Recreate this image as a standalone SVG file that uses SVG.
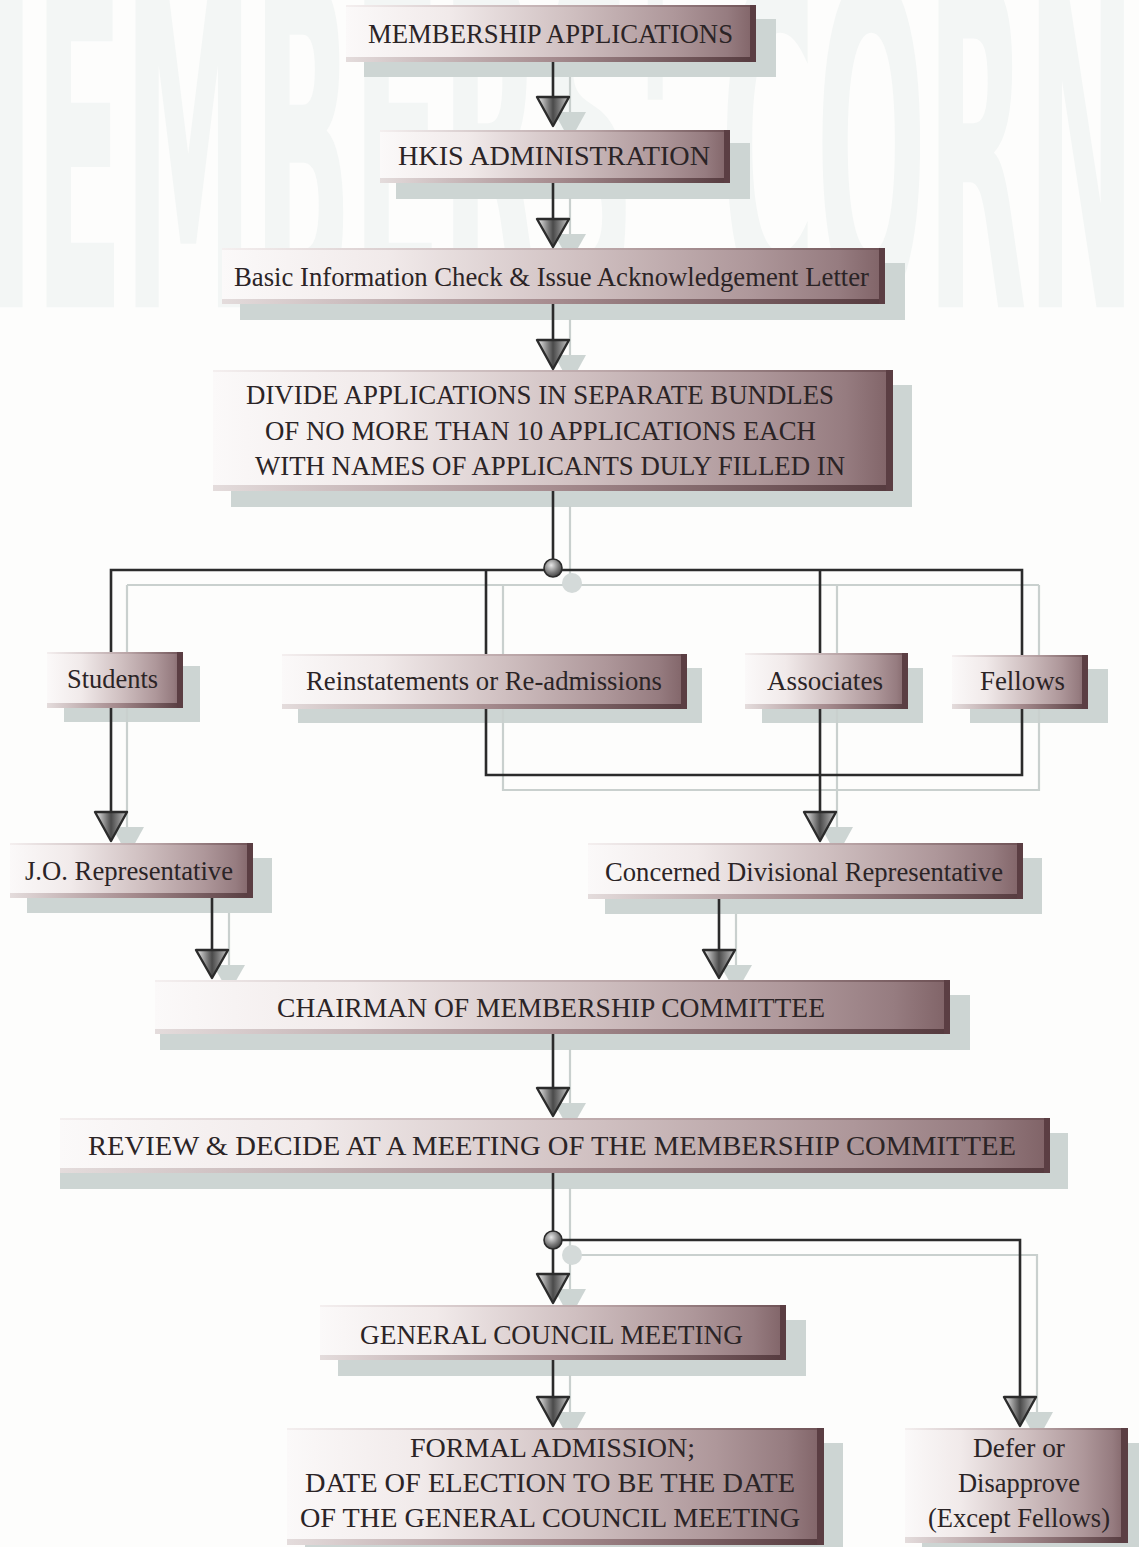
<svg xmlns="http://www.w3.org/2000/svg" width="1139" height="1547" viewBox="0 0 1139 1547">
<defs>
<linearGradient id="gBox" x1="0" y1="0" x2="1" y2="0">
<stop offset="0" stop-color="#fbf9f9"/>
<stop offset="0.25" stop-color="#f1eaea"/>
<stop offset="0.55" stop-color="#cfbfc0"/>
<stop offset="0.8" stop-color="#ae979a"/>
<stop offset="0.93" stop-color="#967c80"/>
<stop offset="1" stop-color="#7f6266"/>
</linearGradient>
<linearGradient id="gBevel" x1="0" y1="0" x2="1" y2="0">
<stop offset="0" stop-color="#e4dcdc"/>
<stop offset="0.5" stop-color="#a68c8f"/>
<stop offset="1" stop-color="#553a3e"/>
</linearGradient>
<linearGradient id="gTop" x1="0" y1="0" x2="1" y2="0">
<stop offset="0" stop-color="#f4efef"/>
<stop offset="0.6" stop-color="#b8a3a5"/>
<stop offset="1" stop-color="#6e5155"/>
</linearGradient>
<linearGradient id="gTri" x1="0" y1="0" x2="1" y2="0">
<stop offset="0" stop-color="#f2f2f2"/>
<stop offset="0.5" stop-color="#4a4a4a"/>
<stop offset="1" stop-color="#c4c4c4"/>
</linearGradient>
<radialGradient id="gDot" cx="0.4" cy="0.35" r="0.7">
<stop offset="0" stop-color="#e8e8e8"/>
<stop offset="0.6" stop-color="#7a7a7a"/>
<stop offset="1" stop-color="#3a3a3a"/>
</radialGradient>
<style>
.bx{fill:url(#gBox)}
.bb{fill:url(#gBevel)}
.bt{fill:url(#gTop)}
.br{fill:#5b3e43}
.sh{fill:#cdd5d3}
.t{font-family:"Liberation Serif","Times New Roman",serif;font-size:27px;fill:#2b2426}
.ln{fill:none;stroke:#2b2b2b;stroke-width:2.6}
.lns{fill:none;stroke:#c9d0ce;stroke-width:2.2}
.tri{fill:url(#gTri);stroke:#2b2b2b;stroke-width:2.4;stroke-linejoin:round}
.tris{fill:#cdd5d3}
.dot{fill:url(#gDot);stroke:#2b2b2b;stroke-width:1.6}
.dots{fill:#d4dad9}
.wm{font-family:"DejaVu Sans Condensed","DejaVu Sans",sans-serif;font-weight:bold;font-size:100px;fill:#f3f6f5}
</style>
</defs>
<rect x="0" y="0" width="1139" height="1547" fill="#fdfdfc"/>
<g id="watermark">
<text class="wm" transform="scale(1,4.53)" x="-95" y="67.8" textLength="1420" lengthAdjust="spacingAndGlyphs">MEMBERS' CORNER</text>
</g>

<g id="shadows">
<rect class="sh" x="364" y="19" width="412" height="58"/>
<rect class="sh" x="396" y="143" width="354" height="56"/>
<rect class="sh" x="240" y="263" width="665" height="57"/>
<rect class="sh" x="231" y="385" width="681" height="122"/>
<rect class="sh" x="64" y="666" width="136" height="56"/>
<rect class="sh" x="298" y="668" width="404" height="55"/>
<rect class="sh" x="762" y="668" width="161" height="55"/>
<rect class="sh" x="970" y="669" width="138" height="54"/>
<rect class="sh" x="27" y="858" width="245" height="55"/>
<rect class="sh" x="605" y="858" width="437" height="56"/>
<rect class="sh" x="160" y="995" width="810" height="55"/>
<rect class="sh" x="60" y="1133" width="1008" height="56"/>
<rect class="sh" x="338" y="1320" width="468" height="56"/>
<rect class="sh" x="305" y="1443" width="538" height="110"/>
<rect class="sh" x="922" y="1443" width="217" height="110"/>
</g>

<g id="connectors">
<g id="connector-shadows" transform="translate(17,15)">
<path class="lns" d="M553 62V100M553 183V222M553 304V343M553 491V568M110 570H1022M110 570V812M486 570V775H1022V570M820 570V815M212 898V953M719 899V953M553 1034V1091M553 1173V1276M553 1240H1020V1400M553 1360V1400"/>
<polygon class="tris" points="537,97 569,97 553,126"/>
<polygon class="tris" points="537,219 569,219 553,247"/>
<polygon class="tris" points="537,340 569,340 553,369"/>
<polygon class="tris" points="95,812 127,812 111,841"/>
<polygon class="tris" points="804,812 836,812 820,841"/>
<polygon class="tris" points="196,950 228,950 212,978"/>
<polygon class="tris" points="703,950 735,950 719,978"/>
<polygon class="tris" points="537,1088 569,1088 553,1116"/>
<polygon class="tris" points="537,1274 569,1274 553,1303"/>
<polygon class="tris" points="537,1397 569,1397 553,1426"/>
<polygon class="tris" points="1004,1397 1036,1397 1020,1426"/>
<circle class="dots" cx="555" cy="568" r="10"/>
<circle class="dots" cx="555" cy="1240" r="10"/>
</g>
<g id="connector-lines">
<path class="ln" d="M553 62V98"/>
<path class="ln" d="M553 183V220"/>
<path class="ln" d="M553 304V341"/>
<path class="ln" d="M553 491V568"/>
<path class="ln" d="M111 652V570H1022V655"/>
<path class="ln" d="M486 570V654"/>
<path class="ln" d="M820 570V653"/>
<path class="ln" d="M111 708V813"/>
<path class="ln" d="M486 709V775H1022V709"/>
<path class="ln" d="M820 709V813"/>
<path class="ln" d="M212 898V951"/>
<path class="ln" d="M719 899V951"/>
<path class="ln" d="M553 1034V1089"/>
<path class="ln" d="M553 1173V1275"/>
<path class="ln" d="M553 1240H1020V1398"/>
<path class="ln" d="M553 1360V1398"/>
</g>
</g>

<g id="n1"><rect class="bx" x="346" y="5" width="410" height="57"/><rect class="bt" x="346" y="5" width="410" height="2"/><rect class="bb" x="346" y="57" width="410" height="5"/><rect class="br" x="750" y="5" width="6" height="57"/>
<text class="t" x="368" y="43" textLength="365" lengthAdjust="spacingAndGlyphs">MEMBERSHIP APPLICATIONS</text></g>

<g id="n2"><rect class="bx" x="380" y="130" width="350" height="53"/><rect class="bt" x="380" y="130" width="350" height="2"/><rect class="bb" x="380" y="178" width="350" height="5"/><rect class="br" x="724" y="130" width="6" height="53"/>
<text class="t" x="398" y="165" textLength="312" lengthAdjust="spacingAndGlyphs">HKIS ADMINISTRATION</text></g>

<g id="n3"><rect class="bx" x="222" y="248" width="663" height="56"/><rect class="bt" x="222" y="248" width="663" height="2"/><rect class="bb" x="222" y="299" width="663" height="5"/><rect class="br" x="879" y="248" width="6" height="56"/>
<text class="t" x="234" y="286" textLength="635" lengthAdjust="spacingAndGlyphs">Basic Information Check &amp; Issue Acknowledgement Letter</text></g>

<g id="n4"><rect class="bx" x="213" y="370" width="680" height="121"/><rect class="bt" x="213" y="370" width="680" height="2"/><rect class="bb" x="213" y="485" width="680" height="6"/><rect class="br" x="886" y="370" width="7" height="121"/>
<text class="t" x="246" y="404" textLength="588" lengthAdjust="spacingAndGlyphs">DIVIDE APPLICATIONS IN SEPARATE BUNDLES</text>
<text class="t" x="265" y="440" textLength="551" lengthAdjust="spacingAndGlyphs">OF NO MORE THAN 10 APPLICATIONS EACH</text>
<text class="t" x="255" y="475" textLength="590" lengthAdjust="spacingAndGlyphs">WITH NAMES OF APPLICANTS DULY FILLED IN</text></g>

<g id="n5"><rect class="bx" x="47" y="652" width="136" height="56"/><rect class="bt" x="47" y="652" width="136" height="2"/><rect class="bb" x="47" y="703" width="136" height="5"/><rect class="br" x="177" y="652" width="6" height="56"/>
<text class="t" x="67" y="688" textLength="91" lengthAdjust="spacingAndGlyphs">Students</text></g>

<g id="n6"><rect class="bx" x="282" y="654" width="405" height="55"/><rect class="bt" x="282" y="654" width="405" height="2"/><rect class="bb" x="282" y="704" width="405" height="5"/><rect class="br" x="681" y="654" width="6" height="55"/>
<text class="t" x="306" y="690" textLength="356" lengthAdjust="spacingAndGlyphs">Reinstatements or Re-admissions</text></g>

<g id="n7"><rect class="bx" x="745" y="653" width="163" height="56"/><rect class="bt" x="745" y="653" width="163" height="2"/><rect class="bb" x="745" y="704" width="163" height="5"/><rect class="br" x="902" y="653" width="6" height="56"/>
<text class="t" x="767" y="690" textLength="116" lengthAdjust="spacingAndGlyphs">Associates</text></g>

<g id="n8"><rect class="bx" x="952" y="655" width="136" height="54"/><rect class="bt" x="952" y="655" width="136" height="2"/><rect class="bb" x="952" y="704" width="136" height="5"/><rect class="br" x="1082" y="655" width="6" height="54"/>
<text class="t" x="980" y="690" textLength="85" lengthAdjust="spacingAndGlyphs">Fellows</text></g>

<g id="n9"><rect class="bx" x="10" y="843" width="243" height="55"/><rect class="bt" x="10" y="843" width="243" height="2"/><rect class="bb" x="10" y="893" width="243" height="5"/><rect class="br" x="247" y="843" width="6" height="55"/>
<text class="t" x="25" y="880" textLength="208" lengthAdjust="spacingAndGlyphs">J.O. Representative</text></g>

<g id="n10"><rect class="bx" x="588" y="843" width="435" height="56"/><rect class="bt" x="588" y="843" width="435" height="2"/><rect class="bb" x="588" y="894" width="435" height="5"/><rect class="br" x="1017" y="843" width="6" height="56"/>
<text class="t" x="605" y="881" textLength="398" lengthAdjust="spacingAndGlyphs">Concerned Divisional Representative</text></g>

<g id="n11"><rect class="bx" x="155" y="980" width="795" height="54"/><rect class="bt" x="155" y="980" width="795" height="2"/><rect class="bb" x="155" y="1029" width="795" height="5"/><rect class="br" x="944" y="980" width="6" height="54"/>
<text class="t" x="277" y="1017" textLength="548" lengthAdjust="spacingAndGlyphs">CHAIRMAN OF MEMBERSHIP COMMITTEE</text></g>

<g id="n12"><rect class="bx" x="60" y="1118" width="990" height="55"/><rect class="bt" x="60" y="1118" width="990" height="2"/><rect class="bb" x="60" y="1168" width="990" height="5"/><rect class="br" x="1044" y="1118" width="6" height="55"/>
<text class="t" x="88" y="1155" textLength="928" lengthAdjust="spacingAndGlyphs">REVIEW &amp; DECIDE AT A MEETING OF THE MEMBERSHIP COMMITTEE</text></g>

<g id="n13"><rect class="bx" x="320" y="1305" width="466" height="55"/><rect class="bt" x="320" y="1305" width="466" height="2"/><rect class="bb" x="320" y="1355" width="466" height="5"/><rect class="br" x="780" y="1305" width="6" height="55"/>
<text class="t" x="360" y="1344" textLength="383" lengthAdjust="spacingAndGlyphs">GENERAL COUNCIL MEETING</text></g>

<g id="n14"><rect class="bx" x="287" y="1428" width="537" height="117"/><rect class="bt" x="287" y="1428" width="537" height="2"/><rect class="bb" x="287" y="1539" width="537" height="6"/><rect class="br" x="817" y="1428" width="7" height="117"/>
<text class="t" x="410" y="1457" textLength="285" lengthAdjust="spacingAndGlyphs">FORMAL ADMISSION;</text>
<text class="t" x="305" y="1492" textLength="490" lengthAdjust="spacingAndGlyphs">DATE OF ELECTION TO BE THE DATE</text>
<text class="t" x="300" y="1527" textLength="500" lengthAdjust="spacingAndGlyphs">OF THE GENERAL COUNCIL MEETING</text></g>

<g id="n15"><rect class="bx" x="905" y="1428" width="223" height="115"/><rect class="bt" x="905" y="1428" width="223" height="2"/><rect class="bb" x="905" y="1537" width="223" height="6"/><rect class="br" x="1121" y="1428" width="7" height="115"/>
<text class="t" x="973" y="1457" textLength="92" lengthAdjust="spacingAndGlyphs">Defer or</text>
<text class="t" x="958" y="1492" textLength="122" lengthAdjust="spacingAndGlyphs">Disapprove</text>
<text class="t" x="928" y="1527" textLength="182" lengthAdjust="spacingAndGlyphs">(Except Fellows)</text></g>

<g id="connector-heads">
<polygon class="tri" points="537,97 569,97 553,126"/>
<polygon class="tri" points="537,219 569,219 553,247"/>
<polygon class="tri" points="537,340 569,340 553,369"/>
<polygon class="tri" points="95,812 127,812 111,841"/>
<polygon class="tri" points="804,812 836,812 820,841"/>
<polygon class="tri" points="196,950 228,950 212,978"/>
<polygon class="tri" points="703,950 735,950 719,978"/>
<polygon class="tri" points="537,1088 569,1088 553,1116"/>
<polygon class="tri" points="537,1274 569,1274 553,1303"/>
<polygon class="tri" points="537,1397 569,1397 553,1426"/>
<polygon class="tri" points="1004,1397 1036,1397 1020,1426"/>
<circle class="dot" cx="553" cy="568" r="9"/>
<circle class="dot" cx="553" cy="1240" r="9"/>
</g>
</svg>
